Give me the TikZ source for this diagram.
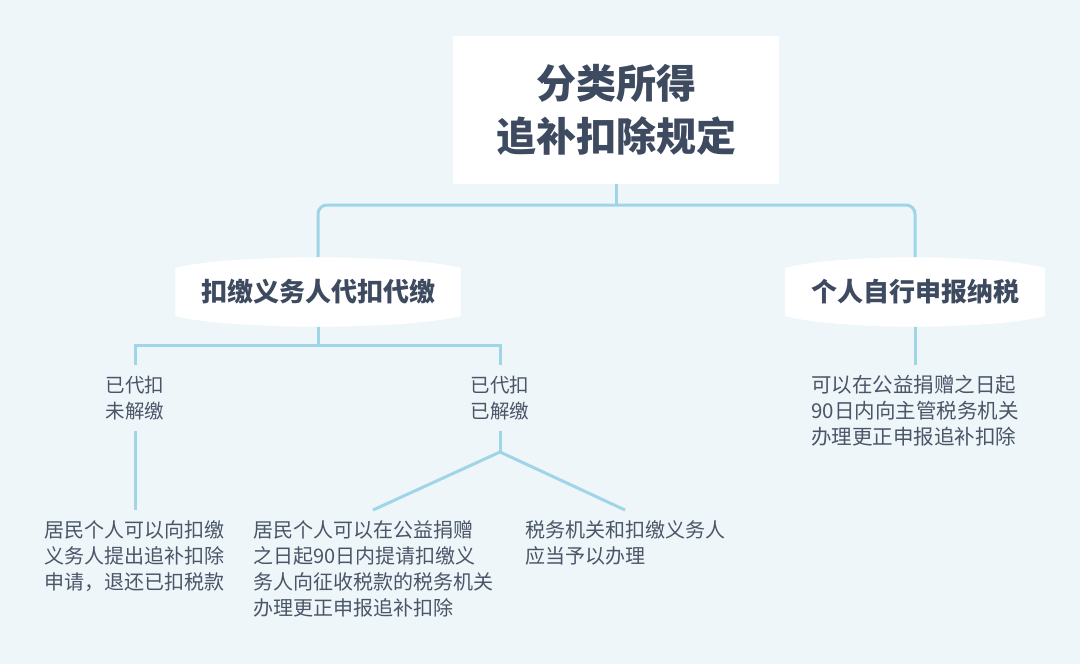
\documentclass[tikz,border=0pt]{standalone}
\usepackage{fontspec}
\setmainfont{Noto Sans CJK SC}
\usetikzlibrary{positioning, calc, backgrounds}
\definecolor{taxbg}{HTML}{EEF6FA}
\definecolor{taxline}{HTML}{A0D5E8}
\definecolor{taxdark}{HTML}{3D4A5F}
\definecolor{taxtext}{HTML}{4A5567}

\begin{document}
\begin{tikzpicture}[x=1pt, y=-1pt,
    rootbox/.style={fill=white, minimum width=326pt, minimum height=148pt, align=center,
      text=taxdark, font=\fontsize{40}{53}\selectfont\bfseries},
    typebox/.style={minimum width=285pt, minimum height=70pt, text=taxdark,
      font=\fontsize{26}{30}\selectfont\bfseries},
    casetext/.style={align=center, anchor=north, inner xsep=0pt, inner ysep=11pt,
      text=taxtext, font=\fontsize{19.5}{26}\selectfont},
    ruletext/.style={align=left, anchor=north, inner xsep=0pt, inner ysep=10pt,
      text=taxtext, font=\fontsize{20}{26}\selectfont},
    conn/.style={draw=taxline, line width=3pt}]
  \useasboundingbox (0,0) rectangle (1080,664);

  % Root
  \node[rootbox] (root) at (616,110) {分类所得\\追补扣除规定};
  % Two ways of declaring
  \node[typebox] (agent) at (318,292) {扣缴义务人代扣代缴};
  \node[typebox, minimum width=260pt] (self) at (915,292) {个人自行申报纳税};
  \coordinate (top) at (616,205);
  \draw[conn] (root.south) -- (top);
  \draw[conn, rounded corners=9pt] (agent.north) |- (top) -| (self.north);

  % Withholding agent: two cases
  \node[casetext] (unpaid) at (135,365) {已代扣\\未解缴};
  \node[casetext] (paid) at (500,365) {已代扣\\已解缴};
  \coordinate (agentfork) at (318,345);
  \draw[conn] (agent.south) -- (agentfork);
  \draw[conn] (unpaid.north) |- (agentfork) -| (paid.north);

  % Not yet paid
  \node[ruletext] (refund) at (135,510) {居民个人可以向扣缴\\义务人提出追补扣除\\申请，退还已扣税款};
  \draw[conn] (unpaid.south) -- (refund.north);

  % Already paid
  \coordinate (paidfork) at (500,452);
  \node[ruletext] (correct) at (373,510) {居民个人可以在公益捐赠\\之日起90日内提请扣缴义\\务人向征收税款的税务机关\\办理更正申报追补扣除};
  \node[ruletext] (handle) at (625,510) {税务机关和扣缴义务人\\应当予以办理};
  \draw[conn] (paid.south) -- (paidfork);
  \draw[conn] (paidfork) -- (correct.north);
  \draw[conn] (paidfork) -- (handle.north);

  % Self declaring
  \node[ruletext, font=\fontsize{20.5}{26}\selectfont] (selfrule) at (915,365) {可以在公益捐赠之日起\\90日内向主管税务机关\\办理更正申报追补扣除};
  \draw[conn] (self.south) -- (selfrule.north);

  % Background and barrel shapes
  \begin{scope}[on background layer]
    \fill[taxbg] (0,0) rectangle (1080,664);
    \foreach \n in {agent,self}
      \fill[white] ($(\n.west)+(0,-24)$)
        .. controls ($(\n.north west)+(55,-3)$) and ($(\n.north east)+(-55,-3)$) .. ($(\n.east)+(0,-24)$)
        -- ($(\n.east)+(0,24)$)
        .. controls ($(\n.south east)+(-55,3)$) and ($(\n.south west)+(55,3)$) .. ($(\n.west)+(0,24)$)
        -- cycle;
  \end{scope}
\end{tikzpicture}
\end{document}
